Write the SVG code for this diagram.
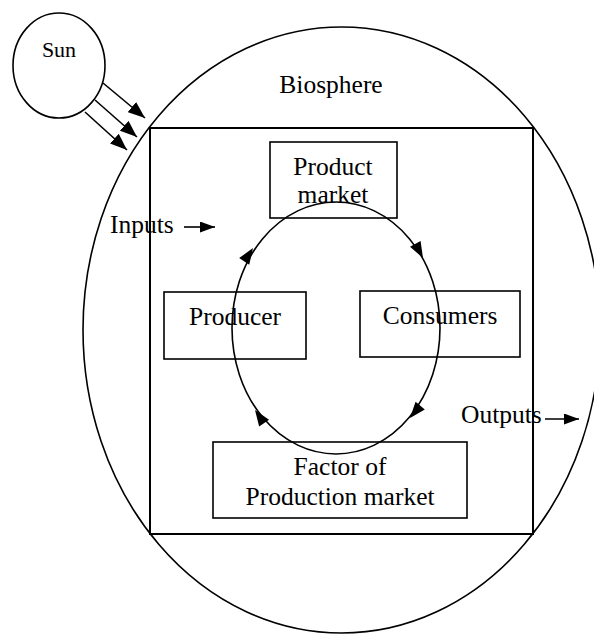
<svg xmlns="http://www.w3.org/2000/svg" width="594" height="634" viewBox="0 0 594 634">
<style>
text{font-family:"Liberation Serif","DejaVu Serif","Times New Roman",serif;font-size:25.5px;fill:#000}
.sh{fill:none;stroke:#000;stroke-width:1.6}
.bx{fill:#fff;stroke:#000;stroke-width:1.6}
.ln{fill:none;stroke:#000;stroke-width:1.6}
.hd{fill:#000}
</style>
<defs>
<marker id="ah" markerWidth="15" markerHeight="11" refX="15" refY="5.5" orient="auto" markerUnits="userSpaceOnUse"><path d="M0,0 L15,5.5 L0,11 z" fill="#000"/></marker>
<marker id="ahs" markerWidth="17" markerHeight="13" refX="17" refY="6.5" orient="auto" markerUnits="userSpaceOnUse"><path d="M0,0 L17,6.5 L0,13 z" fill="#000"/></marker>
</defs>
<g id="biosphere">
<ellipse class="sh" cx="341.5" cy="330" rx="258.5" ry="303"/>
<text x="331" y="93" text-anchor="middle" font-family="Liberation Serif, serif">Biosphere</text>
</g>
<g id="economy">
<rect class="sh" x="150" y="128" width="383" height="406" style="stroke-width:2"/>
</g>
<g id="sun">
<ellipse class="sh" cx="59" cy="65.5" rx="46" ry="52.5"/>
<text x="59" y="57" text-anchor="middle" style="font-size:22px" font-family="Liberation Serif, serif">Sun</text>
</g>
<g id="product-market">
<rect class="bx" x="270" y="142" width="127" height="76"/>
<text x="333" y="175" text-anchor="middle" font-family="Liberation Serif, serif">Product</text>
<text x="333" y="203" text-anchor="middle" font-family="Liberation Serif, serif">market</text>
</g>
<g id="producer">
<rect class="bx" x="164" y="292" width="142" height="67"/>
<text x="235" y="325" text-anchor="middle" font-family="Liberation Serif, serif">Producer</text>
</g>
<g id="consumers">
<rect class="bx" x="360" y="291" width="160" height="66"/>
<text x="440" y="324" text-anchor="middle" font-family="Liberation Serif, serif">Consumers</text>
</g>
<g id="factor-market">
<rect class="bx" x="213" y="442" width="254" height="76"/>
<text x="340" y="475" text-anchor="middle" font-family="Liberation Serif, serif">Factor of</text>
<text x="340" y="505" text-anchor="middle" font-family="Liberation Serif, serif">Production market</text>
</g>
<g id="inputs">
<text x="110" y="233" font-family="Liberation Serif, serif">Inputs</text>
</g>
<g id="outputs">
<text x="461" y="423" font-family="Liberation Serif, serif">Outputs</text>
</g>
<g id="connectors">
<ellipse class="ln" cx="336" cy="328" rx="104" ry="126"/>
<path class="hd" d="M0,0 L-16,-6 L-16,6 z" transform="translate(253,248) rotate(-56.7)"/>
<path class="hd" d="M0,0 L-16,-6 L-16,6 z" transform="translate(423,258) rotate(61.3)"/>
<path class="hd" d="M0,0 L-16,-6 L-16,6 z" transform="translate(410,418) rotate(129.6)"/>
<path class="hd" d="M0,0 L-16,-6 L-16,6 z" transform="translate(255,410) rotate(-124.6)"/>
<line class="ln" x1="103" y1="83" x2="145" y2="118" marker-end="url(#ahs)"/>
<line class="ln" x1="95" y1="100" x2="137" y2="137" marker-end="url(#ahs)"/>
<line class="ln" x1="85" y1="112" x2="127" y2="150" marker-end="url(#ahs)"/>
<line class="ln" x1="184" y1="227" x2="215" y2="227" marker-end="url(#ah)"/>
<line class="ln" x1="545" y1="419" x2="579" y2="419" marker-end="url(#ah)"/>
</g>
</svg>
